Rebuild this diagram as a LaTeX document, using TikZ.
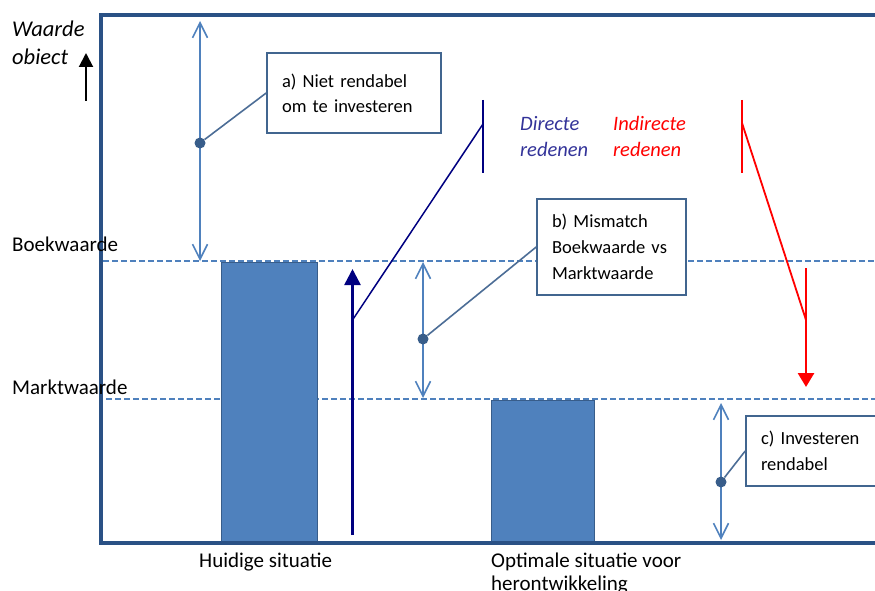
\documentclass[tikz,border=0pt]{standalone}
\usepackage{fontspec}
\setmainfont{Carlito}
\usetikzlibrary{arrows.meta, positioning, calc}

\definecolor{framecol}{HTML}{2A5185}
\definecolor{lightcol}{HTML}{4F81BD}
\definecolor{dotcol}{HTML}{385D8A}
\definecolor{boxcol}{HTML}{41658F}
\definecolor{navycol}{HTML}{000080}
\definecolor{dirtext}{HTML}{333399}

\begin{document}
\begin{tikzpicture}[x=1pt, y=-1pt,
  lbl/.style={anchor=base west, inner sep=0pt, align=left, font=\fontsize{21}{23}\selectfont},
  ital/.style={anchor=base west, inner sep=0pt, align=left, font=\fontsize{20.5}{26}\selectfont\itshape},
  note/.style={rectangle, draw=boxcol, line width=1.6pt, fill=white, inner xsep=15pt,
               inner ysep=0pt, align=left, font=\fontsize{18.5}{25}\selectfont},
  bar/.style={rectangle, fill=lightcol, draw=dotcol, line width=1pt, anchor=north west, inner sep=0pt},
  dot/.style={circle, fill=dotcol, minimum size=11pt, inner sep=0pt},
  conn/.style={draw=dotcol!90!white, line width=1.6pt},
  dbl/.style={draw=lightcol, line width=1.6pt, {Straight Barb[length=15pt,width=15pt,line width=1.6pt]}-{Straight Barb[length=15pt,width=15pt,line width=1.6pt]}},
  gridline/.style={draw=lightcol, line width=2pt, dash pattern=on 6pt off 3pt},
  frameline/.style={draw=framecol, line width=3.5pt}
]

\clip (0,0) rectangle (875,591);

%% reference levels
\draw[gridline] (103,261) -- (875,261);
\draw[gridline] (106,399) -- (875,399);

%% bars
\node[bar, minimum width=96pt, minimum height=280pt] (bar1) at (221,262) {};
\node[bar, minimum width=103pt, minimum height=142pt] (bar2) at (491,400) {};

%% frame
\draw[frameline] (900,15) -- (101,15) -- (101,543) -- (900,543);

%% axis label (base = last line)
\node[anchor=base west, inner sep=0pt, align=left, font=\fontsize{22.5}{28}\selectfont\itshape]
  (yname) at (12,65) {Waarde\\obiect};
\coordinate (ytail) at (86,101);
\coordinate (ytip)  at (86,53);
\draw[black, line width=2pt, -{Triangle[length=14pt,width=14pt]}] (ytail) -- (ytip);

\node[lbl] (boek)  at (12,251) {Boekwaarde};
\node[lbl] (markt) at (12,394) {Marktwaarde};
\node[lbl] (huid)  at (199,567) {Huidige situatie};
\node[lbl] (opti)  at (491,590) {Optimale situatie voor\\herontwikkeling};

%% double arrows
\coordinate (atop) at (200,21);  \coordinate (abot) at (200,261);
\coordinate (btop) at (423,262); \coordinate (bbot) at (423,398);
\coordinate (ctop) at (721,403); \coordinate (cbot) at (721,540);
\draw[dbl] (atop) -- (abot);
\draw[dbl] (btop) -- (bbot);
\draw[dbl] (ctop) -- (cbot);

%% notes
\node[note, text width=144pt, minimum height=80pt] (nota) at (354,93)
  {a) Niet rendabel\\om te investeren};
\node[note, text width=119pt, minimum height=96pt, font=\fontsize{18.5}{26}\selectfont] (notb) at (611.5,247)
  {b) Mismatch\\Boekwaarde vs\\Marktwaarde};
\node[note, text width=130pt, minimum height=70pt, font=\fontsize{18.5}{26}\selectfont] (notc) at (826,451)
  {c) Investeren\\rendabel};

\node[dot] (dota) at (200,143) {};
\node[dot] (dotb) at (423,339) {};
\node[dot] (dotc) at (721,482) {};
\draw[conn] (dota) -- (nota.west);
\draw[conn] (dotb) -- (notb.west);
\draw[conn] (dotc) -- (notc.west);

%% direct reasoning
\coordinate (dtail) at (352.5,535);
\coordinate (dtip)  at (352.5,269);
\draw[navycol, line width=2.5pt, -{Triangle[length=16pt,width=16pt]}] (dtail) -- (dtip);
\coordinate (dfoot) at (352.5,320);
\coordinate (dhead) at (483,124);
\coordinate (dtk1) at (483,100); \coordinate (dtk2) at (483,173);
\draw[navycol, line width=1.5pt] (dfoot) -- (dhead);
\draw[navycol, line width=1.5pt] (dtk1) -- (dtk2);

\node[ital, text=dirtext] (dirtxt) at (520,157) {Directe\\redenen};
\node[ital, text=red] (indtxt) at (613,157) {Indirecte\\redenen};

%% indirect reasoning
\coordinate (rtk1) at (742,100); \coordinate (rtk2) at (742,173);
\coordinate (rhead) at (742,123);
\coordinate (rfoot) at (806,320);
\draw[red, line width=1.8pt] (rtk1) -- (rtk2);
\draw[red, line width=1.8pt] (rhead) -- (rfoot);
\coordinate (rtail) at (806,268);
\coordinate (rtip)  at (806,387);
\draw[red, line width=2.8pt, -{Triangle[length=14pt,width=16pt]}] (rtail) -- (rtip);

\end{tikzpicture}
\end{document}
